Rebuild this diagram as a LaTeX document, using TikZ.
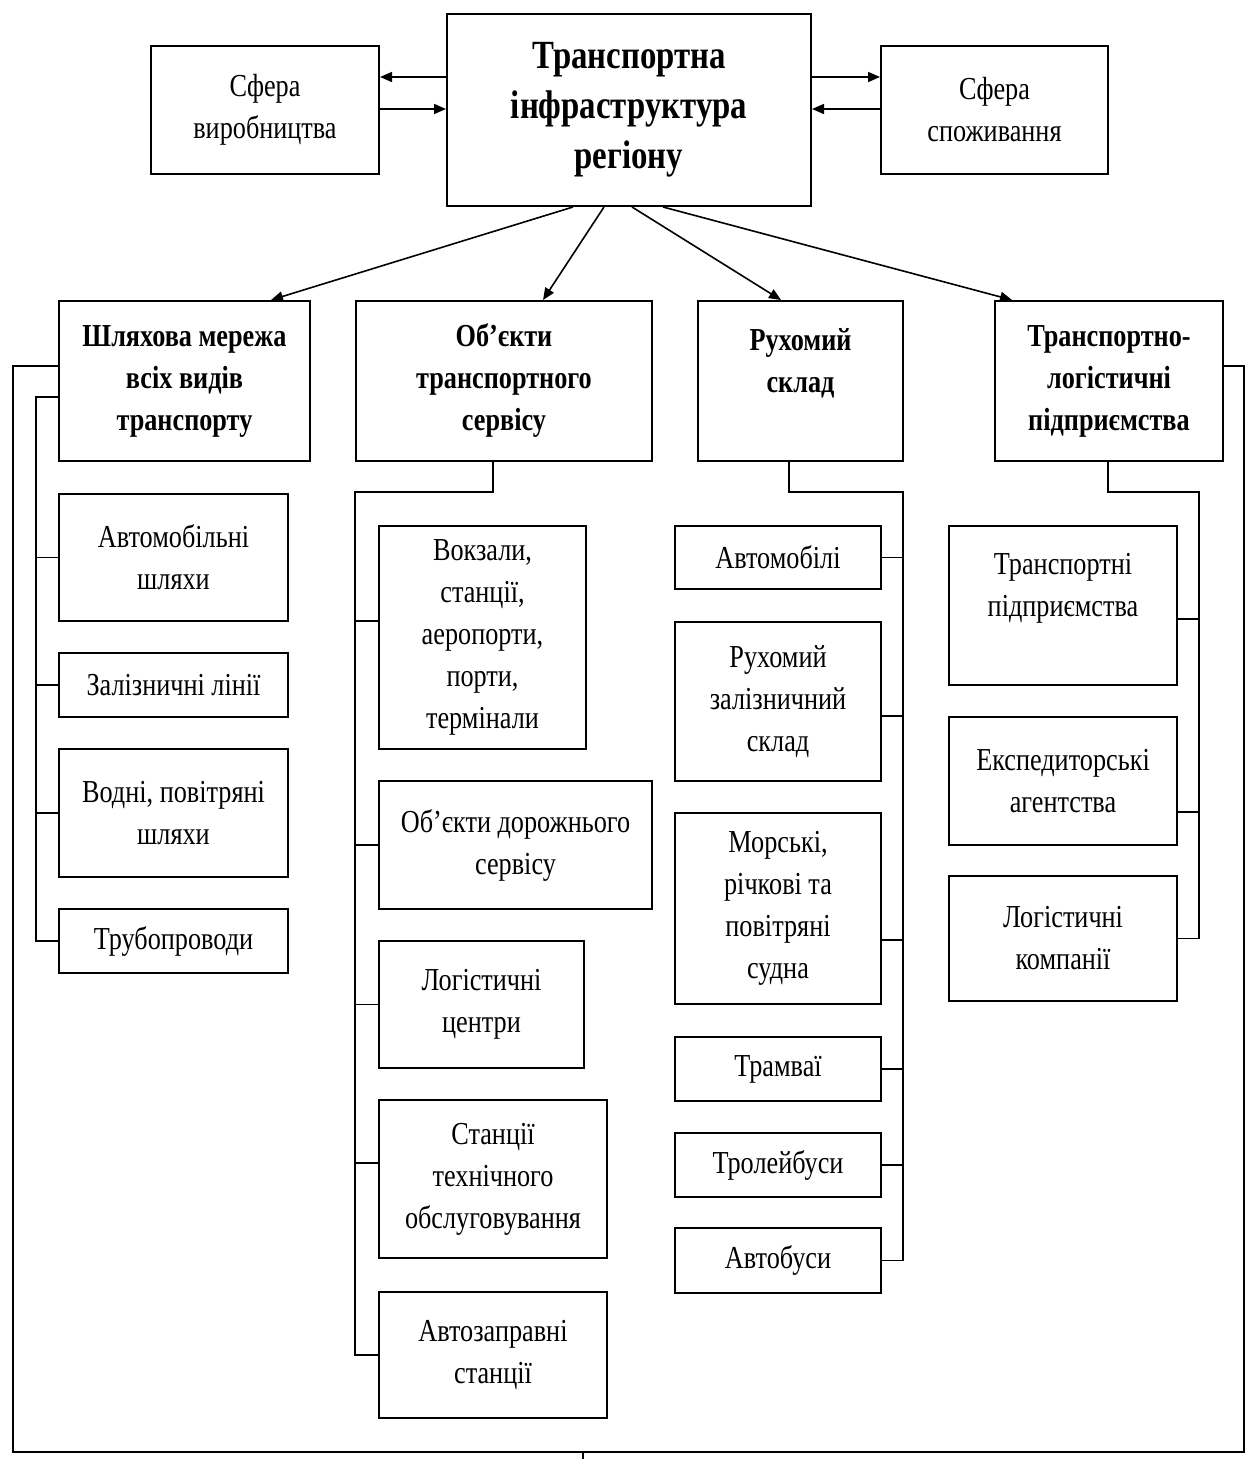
\documentclass[tikz,border=0pt]{standalone}
\usepackage{fontspec}
\setmainfont[FakeStretch=0.82]{Liberation Serif}
\usetikzlibrary{arrows.meta}
\newcommand\bx[7][box]{\node[#1, minimum width={(#5-#3)*0.5pt}, minimum height={(#6-#4)*0.5pt}] (#2) at (#3,#4) {#7};}
\begin{document}
\begin{tikzpicture}[x=0.5pt,y=-0.5pt,
  box/.style={draw, line width=1pt, align=center, inner sep=2pt, anchor=north west, font=\fontsize{16}{21}\selectfont},
  hbox/.style={box, font=\bfseries\fontsize{16}{21}\selectfont},
  mbox/.style={box, font=\bfseries\fontsize{20}{25}\selectfont},
  conn/.style={line width=0.8pt},
  arr/.style={line width=0.8pt, -{Triangle[length=6pt,width=5pt]}}]
\useasboundingbox (0,0) rectangle (1254,1459);

% top row
\bx[mbox]{main}{446}{13}{810}{205}{Транспортна\\інфраструктура\\регіону}
\bx{spv}{150}{45}{378}{173}{Сфера\\виробництва}
\bx{spz}{880}{45}{1107}{173}{Сфера\\споживання}

\draw[arr] (main.west |- 0,77) -- (spv.east |- 0,77);
\draw[arr] (spv.east |- 0,109) -- (main.west |- 0,109);
\draw[arr] (main.east |- 0,77) -- (spz.west |- 0,77);
\draw[arr] (spz.west |- 0,109) -- (main.east |- 0,109);

% level 2
\bx[hbox]{shl}{58}{300}{309}{460}{Шляхова мережа\\всіх видів\\транспорту}
\bx[hbox]{obj}{355}{300}{651}{460}{Об’єкти\\транспортного\\сервісу}
\bx[hbox]{rux}{697}{300}{902}{460}{Рухомий\\склад\\\mbox{}}
\bx[hbox]{tl}{994}{300}{1222}{460}{Транспортно-\\логістичні\\підприємства}

\draw[arr] (main.south -| 573,0) -- (shl.north -| 271,0);
\draw[arr] (main.south -| 604,0) -- (obj.north -| 543,0);
\draw[arr] (main.south -| 632,0) -- (rux.north -| 781,0);
\draw[arr] (main.south -| 663,0) -- (tl.north -| 1012,0);

% column 1
\bx{a1}{58}{493}{287}{620}{Автомобільні\\шляхи}
\bx{z1}{58}{652}{287}{716}{Залізничні лінії}
\bx{v1}{58}{748}{287}{876}{Водні, повітряні\\шляхи}
\bx{tr}{58}{908}{287}{972}{Трубопроводи}
\coordinate (c1) at (36,397);
\draw[conn] (shl.west |- c1) -- (c1) |- (tr.west);
\foreach \n in {a1,z1,v1} \draw[conn] (\n.west) -- (\n.west -| c1);

% column 2
\bx{vk}{378}{525}{585}{748}{Вокзали,\\станції,\\аеропорти,\\порти,\\термінали}
\bx{od}{378}{780}{651}{908}{Об’єкти дорожнього\\сервісу}
\bx{lc}{378}{940}{583}{1067}{Логістичні\\центри}
\bx{st}{378}{1099}{606}{1257}{Станції\\технічного\\обслуговування}
\bx{az}{378}{1291}{606}{1417}{Автозаправні\\станції}
\coordinate (c2) at (355,492);
\draw[conn] (obj.south -| 493,0) |- (c2) |- (az.west);
\draw[conn] (vk.west |- 0,621) -- (c2 |- 0,621);
\draw[conn] (od.west) -- (od.west -| c2);
\draw[conn] (lc.west) -- (lc.west -| c2);
\draw[conn] (st.west |- 0,1163) -- (c2 |- 0,1163);

% column 3
\bx{am}{674}{525}{880}{588}{Автомобілі}
\bx{rz}{674}{621}{880}{780}{Рухомий\\залізничний\\склад}
\bx{ms}{674}{812}{880}{1003}{Морські,\\річкові та\\повітряні\\судна}
\bx{tm}{674}{1036}{880}{1100}{Трамваї}
\bx{tb}{674}{1132}{880}{1196}{Тролейбуси}
\bx{ab}{674}{1227}{880}{1292}{Автобуси}
\coordinate (c3) at (903,492);
\draw[conn] (rux.south -| 789,0) |- (c3) |- (ab.east);
\draw[conn] (am.east) -- (am.east -| c3);
\draw[conn] (rz.east |- 0,716) -- (c3 |- 0,716);
\draw[conn] (ms.east |- 0,940) -- (c3 |- 0,940);
\draw[conn] (tm.east) -- (tm.east -| c3);
\draw[conn] (tb.east) -- (tb.east -| c3);

% column 4
\bx{tp}{948}{525}{1176}{684}{Транспортні\\підприємства\\\mbox{}}
\bx{ea}{948}{716}{1176}{844}{Експедиторські\\агентства}
\bx{lk}{948}{875}{1176}{1000}{Логістичні\\компанії}
\coordinate (c4) at (1199,492);
\draw[conn] (tl.south -| 1108,0) |- (c4) |- (lk.east);
\draw[conn] (tp.east |- 0,619) -- (c4 |- 0,619);
\draw[conn] (ea.east |- 0,812) -- (c4 |- 0,812);

% outer frame
\coordinate (oL) at (13,1452);
\coordinate (oR) at (1244,1452);
\coordinate (tick) at (583,1459);
\draw[conn] (shl.west |- 0,366) -| (oL) -- (oR) |- (tl.east |- 0,366);
\draw[conn] (tick |- oL) -- (tick);
\end{tikzpicture}
\end{document}
